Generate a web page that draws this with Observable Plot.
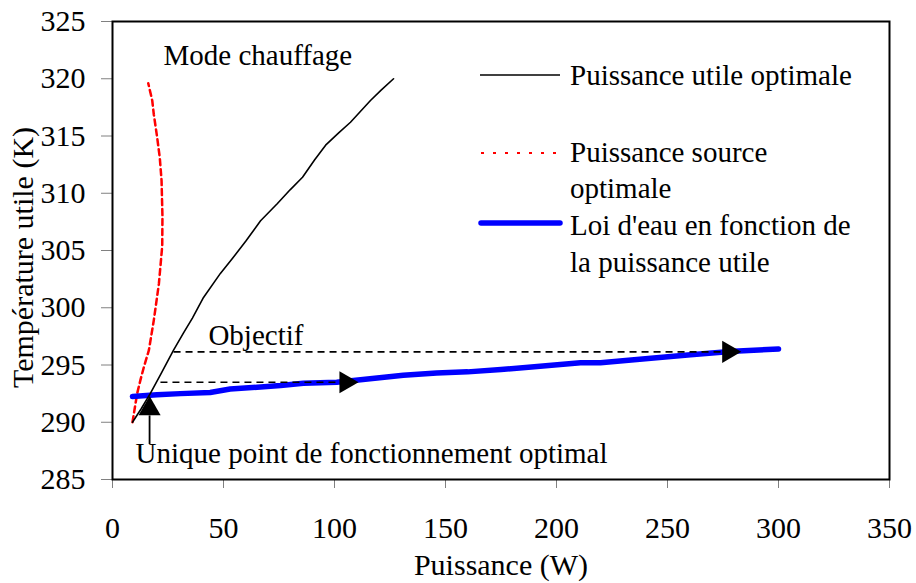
<!DOCTYPE html>
<html>
<head>
<meta charset="utf-8">
<script src="https://cdn.jsdelivr.net/npm/d3@7"></script>
<script src="https://cdn.jsdelivr.net/npm/@observablehq/plot@0.6"></script>
<style>
html, body { margin: 0; padding: 0; background: #fff; }
#chart { position: relative; width: 916px; height: 583px; }
#legend { position: absolute; left: 0; top: 0; pointer-events: none; }
</style>
</head>
<body>
<div id="chart"></div>
<script>
// ---- Data ----
const xTicks = [0, 50, 100, 150, 200, 250, 300, 350];
const yTicks = [285, 290, 295, 300, 305, 310, 315, 320, 325];

// Puissance utile optimale (W, K)
const utileOptimale = [
  [9, 290], [13, 291.2], [17, 292.5], [22, 294.3], [27.5, 296.3], [32, 297.8],
  [36, 299.1], [41, 300.9], [48.6, 303], [54, 304.3], [60, 305.8], [66.7, 307.6],
  [74.3, 309.1], [80, 310.3], [85.6, 311.4], [91, 312.9], [96, 314.2], [102, 315.3],
  [107.2, 316.2], [116.2, 318.1], [121, 319], [126.6, 320]
];

// Puissance source optimale (W, K)
const sourceOptimale = [
  [9, 290], [10, 291.2], [11.1, 292.5], [12.6, 293.7], [14.1, 294.8], [16.4, 296.3],
  [18.6, 298.9], [20.9, 302.1], [22.4, 305.4], [22.5, 308], [22.1, 311.1], [21.3, 313.1],
  [20.1, 314.9], [18.6, 316.9], [17.9, 318.1], [16.1, 319.6]
];

// Loi d'eau en fonction de la puissance utile (W, K)
const loiDeau = [
  [9, 292.25], [20, 292.4], [30.6, 292.5], [44, 292.6], [53, 292.9], [75.7, 293.2],
  [86, 293.4], [101, 293.5], [131, 294.1], [146, 294.3], [160, 294.4], [175, 294.6],
  [190, 294.85], [210.8, 295.2], [219.8, 295.2], [240, 295.55], [260.4, 295.9],
  [279.7, 296.2], [300, 296.4]
];

// Dashed guide lines (x1, x2, y)
const guides = [
  {x1: 27.5, x2: 276, y: 296.15},
  {x1: 21.6, x2: 104, y: 293.5}
];

// Arrow heads (x, y, rotation in degrees)
const arrowHeads = [
  {x: 277.5, y: 296.15, rotate: 90},
  {x: 105.1, y: 293.5, rotate: 90},
  {x: 16.7, y: 291.17, rotate: 0}
];

// Arrow stem (vertical)
const arrowStem = [{x: 16.7, y1: 288.1, y2: 290.6}];

// Annotations
const annotations = [
  {label: "Mode chauffage", x: 23, y: 321.97},
  {label: "Objectif", x: 43.2, y: 297.52},
  {label: "Unique point de fonctionnement optimal", x: 10.4, y: 287.21}
];

// Legend labels
const legendLabels = [
  ["Puissance utile optimale"],
  ["Puissance source", "optimale"],
  ["Loi d'eau en fonction de", "la puissance utile"]
];

const xLabel = "Puissance (W)";
const yLabel = "Température utile (K)";

// ---- Chart ----
const FONT = "'Liberation Serif', 'Times New Roman', serif";

const chart = Plot.plot({
  width: 916,
  height: 583,
  marginLeft: 112,
  marginRight: 27,
  marginTop: 21,
  marginBottom: 104,
  style: {fontFamily: FONT, fontSize: "30px", background: "#fff", color: "black"},
  x: {domain: [0, 350]},
  y: {domain: [285, 325]},
  marks: [
    Plot.axisY(yTicks, {tickSize: 11, tickPadding: 16, stroke: "#808080", fill: "black", label: null, fontSize: 30}),
    Plot.axisX(xTicks, {tickSize: 9, tickPadding: 28, stroke: "#808080", fill: "black", label: null, fontSize: 30}),
    Plot.line(sourceOptimale, {x: d => d[0], y: d => d[1], stroke: "#ff0000", strokeWidth: 2.5, strokeDasharray: "6,4"}),
    Plot.line(loiDeau, {x: d => d[0], y: d => d[1], stroke: "#0000ff", strokeWidth: 5.5, strokeLinecap: "round", strokeLinejoin: "round"}),
    Plot.line(utileOptimale, {x: d => d[0], y: d => d[1], stroke: "black", strokeWidth: 1.6}),
    Plot.link(guides, {x1: "x1", x2: "x2", y1: "y", y2: "y", stroke: "black", strokeWidth: 1.6, strokeDasharray: "7,5"}),
    Plot.link(arrowStem, {x1: "x", x2: "x", y1: "y1", y2: "y2", stroke: "black", strokeWidth: 1.8}),
    Plot.dot(arrowHeads, {x: "x", y: "y", rotate: "rotate", symbol: "triangle", r: 8.2, fill: "black", stroke: "none"}),
    Plot.text(annotations, {x: "x", y: "y", text: "label", textAnchor: "start", lineAnchor: "middle", fontSize: 29, fill: "black"}),
    Plot.text([xLabel], {frameAnchor: "bottom", textAnchor: "middle", lineAnchor: "middle", dy: 85.4, fontSize: 30, fill: "black"}),
    Plot.text([yLabel], {frameAnchor: "left", textAnchor: "middle", lineAnchor: "middle", rotate: -90, dx: -89, dy: 7, fontSize: 30, fill: "black"}),
    Plot.frame({stroke: "black", strokeWidth: 2})
  ]
});

const container = document.getElementById("chart");
container.appendChild(chart);

// ---- Legend overlay ----
const legendSvg = d3.select(container).append("svg")
  .attr("id", "legend")
  .attr("width", 916).attr("height", 583)
  .style("font-family", FONT).style("font-size", "29px");

const legendStyles = [
  {stroke: "black", width: 1.6, dash: null, cap: "butt", lineY: 75, x1: 480, x2: 560},
  {stroke: "#ff0000", width: 1.8, dash: "3,9", cap: "butt", lineY: 153, x1: 481, x2: 558},
  {stroke: "#0000ff", width: 5.5, dash: null, cap: "round", lineY: 223, x1: 481, x2: 560}
];
const legendBaselines = [[85], [162, 198], [235, 272]];

legendLabels.forEach((lines, i) => {
  const s = legendStyles[i];
  legendSvg.append("line")
    .attr("x1", s.x1).attr("x2", s.x2).attr("y1", s.lineY).attr("y2", s.lineY)
    .attr("stroke", s.stroke).attr("stroke-width", s.width)
    .attr("stroke-linecap", s.cap)
    .attr("stroke-dasharray", s.dash);
  lines.forEach((t, j) => {
    legendSvg.append("text")
      .attr("x", 570).attr("y", legendBaselines[i][j])
      .attr("fill", "black")
      .text(t);
  });
});
</script>
</body>
</html>
